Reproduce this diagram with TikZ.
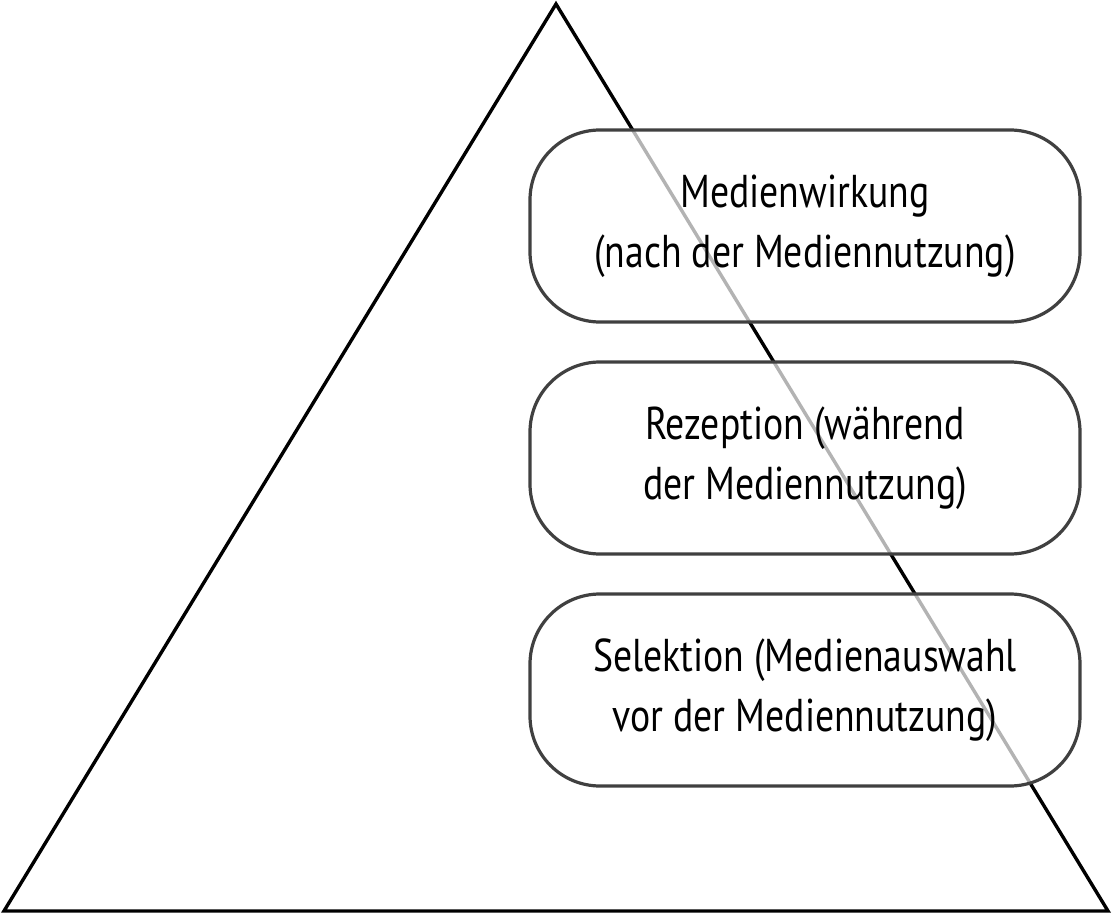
\documentclass[tikz,border=0pt]{standalone}
\usepackage{fontspec}
\setmainfont[FakeStretch=0.82]{PT Sans}
\usetikzlibrary{positioning}
\tikzset{stage/.style={draw=black!75,line width=3.2pt,fill=white,fill opacity=0.7,text opacity=1,
  rounded corners=70pt,minimum width=550pt,minimum height=192pt,align=center,
  font=\fontsize{46}{60}\selectfont}}
\begin{document}
\begin{tikzpicture}[x=1pt,y=-1pt]
    \useasboundingbox (0,0) rectangle (1114,915);
    % the pyramid
    \coordinate (T) at (556,4);
    \coordinate (L) at (4,911);
    \coordinate (R) at (1108,911);
    \draw[line width=3.4pt,line join=miter] (T)--(L)--(R)--cycle;
    % the stages
    \node[stage] (W) at (805,226) {Medienwirkung\\(nach der Mediennutzung)};
    \node[stage] (Z) at (805,458) {Rezeption (während\\der Mediennutzung)};
    \node[stage] (S) at (805,690) {Selektion (Medienauswahl\\vor der Mediennutzung)};
\end{tikzpicture}
\end{document}
